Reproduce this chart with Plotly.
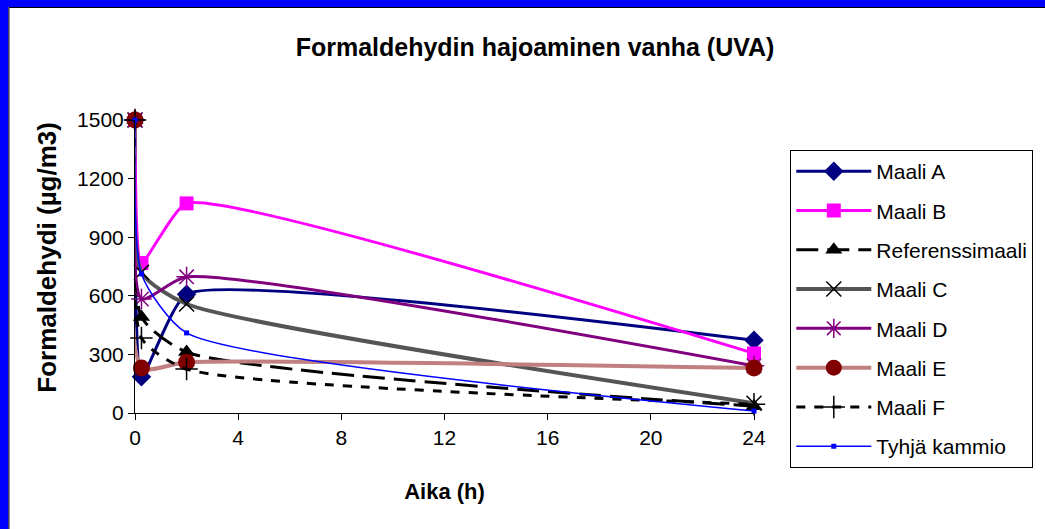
import plotly.graph_objects as go

# Data
hours = [0, 0.25, 2, 24]
maali_a = [1500, 185, 608, 372]
maali_b = [1500, 768, 1073, 305]
referenssimaali = [1500, 492, 312, 35]
maali_c = [1500, 720, 558, 50]
maali_d = [1500, 584, 697, 242]
maali_e = [1500, 230, 260, 230]
maali_f = [1500, 384, 225, 45]
tyhja_kammio = [1500, 712, 410, 10]

x_ticks = [0, 4, 8, 12, 16, 20, 24]
y_ticks = [0, 300, 600, 900, 1200, 1500]

FONT = "Liberation Sans, Arial, sans-serif"

series = [
    ("Maali A", maali_a, dict(color="#000080", width=3, dash="solid", smoothing=0.45),
     dict(symbol="diamond", size=15, color="#000080")),
    ("Maali B", maali_b, dict(color="#FF00FF", width=3, dash="solid", smoothing=0.45),
     dict(symbol="square", size=14, color="#FF00FF")),
    ("Referenssimaali", referenssimaali, dict(color="#000000", width=3, dash="22px,9px", smoothing=0.6),
     dict(symbol="triangle-up", size=15, color="#000000")),
    ("Maali C", maali_c, dict(color="#555555", width=4, dash="solid", smoothing=0.6),
     dict(symbol="x-thin-open", size=15, color="#000000", line=dict(width=1.5, color="#000000"))),
    ("Maali D", maali_d, dict(color="#800080", width=3, dash="solid", smoothing=0.55),
     dict(symbol="asterisk-open", size=17, color="#800080", line=dict(width=1.5, color="#800080"))),
    ("Maali E", maali_e, dict(color="#C08080", width=4, dash="solid", smoothing=0.6),
     dict(symbol="circle", size=17, color="#800000")),
    ("Maali F", maali_f, dict(color="#000000", width=3, dash="9px,9px", smoothing=0.6),
     dict(symbol="cross-thin-open", size=16, color="#000000", line=dict(width=1.5, color="#000000"))),
    ("Tyhjä kammio", tyhja_kammio, dict(color="#0000FF", width=1.5, dash="solid", smoothing=0.6),
     dict(symbol="square", size=5, color="#0000FF")),
]

fig = go.Figure()
for i, (name, vals, line, marker) in enumerate(series):
    fig.add_trace(go.Scatter(
        x=hours, y=vals, name=name, mode="lines+markers",
        line=dict(shape="spline", **line),
        marker=marker, cliponaxis=False, legendgroup="g%d" % i,
    ))

L, R, T, B = 135, 279, 120, 116
W, H = 1045, 529
pw, ph = W - L - R, H - T - B

def px(x):
    return (x - L) / pw

def py(y):
    return (H - B - y) / ph

shapes = [
    dict(type="rect", xref="paper", yref="paper", x0=px(-20), x1=px(1100), y0=py(-20), y1=py(7),
         fillcolor="#0000FF", line=dict(width=0), layer="above"),
    dict(type="rect", xref="paper", yref="paper", x0=px(-20), x1=px(6), y0=py(-20), y1=py(600),
         fillcolor="#0000FF", line=dict(width=0), layer="above"),
    dict(type="line", xref="paper", yref="paper", x0=px(6.5), x1=px(1100), y0=py(7.5), y1=py(7.5),
         line=dict(color="#000000", width=1), layer="above"),
    dict(type="line", xref="paper", yref="paper", x0=px(6.5), x1=px(6.5), y0=py(7.5), y1=py(600),
         line=dict(color="#000000", width=1), layer="above"),
]

annotations = [
    dict(text="<b>Formaldehydi (µg/m3)</b>", textangle=-90, xref="paper", yref="paper",
         x=px(45), y=py(257), xanchor="center", yanchor="middle", showarrow=False,
         font=dict(size=26, family=FONT, color="black")),
]

fig.update_layout(
    width=W, height=H,
    margin=dict(l=L, r=R, t=T, b=B),
    paper_bgcolor="white", plot_bgcolor="white",
    font=dict(family=FONT, size=21, color="black"),
    title=dict(text="<b>Formaldehydin hajoaminen vanha (UVA)</b>", x=0.512, xanchor="center",
               y=1 - 47 / H, yanchor="middle", font=dict(size=25, family=FONT)),
    xaxis=dict(range=[0, 24], tickvals=x_ticks, showline=True, linecolor="black", linewidth=1,
               ticks="outside", ticklen=6, tickcolor="black", showgrid=False, zeroline=False,
               tickfont=dict(size=21),
               title=dict(text="<b>Aika (h)</b>", font=dict(size=22), standoff=35)),
    yaxis=dict(range=[0, 1500], tickvals=y_ticks, showline=True, linecolor="black", linewidth=1,
               ticks="outside", ticklen=6, tickcolor="black", showgrid=False, zeroline=False,
               tickfont=dict(size=21)),
    legend=dict(x=px(803), y=py(150), xanchor="left", yanchor="top",
                bgcolor="white", bordercolor="black", borderwidth=1,
                font=dict(size=21, family=FONT), itemwidth=75, tracegroupgap=9,
                traceorder="grouped", maxheight=520),
    shapes=shapes,
    annotations=annotations,
    showlegend=True,
)

fig.write_html("out.html")
